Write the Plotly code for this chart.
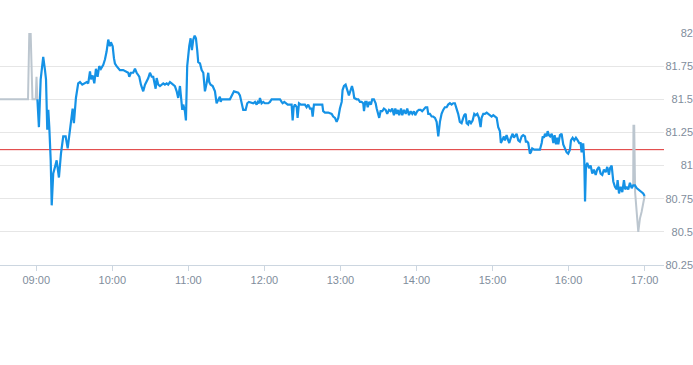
import pandas as pd
import plotly.graph_objects as go

# ---- data (minutes relative to 09:00, prices) ----
trade_date = "2024-01-15"
prev_close = 81.12

pre_minutes = [-30, -6.5, -5.5, -4.4, -3.0, -0.4, 0.2, 0.9]
pre_values = [81.50, 81.50, 81.995, 81.995, 81.50, 81.50, 81.67, 81.50]

session_minutes = [
    0.9, 2.1, 3.5, 4.5, 5.5, 6.9, 7.7, 8.7, 9.5, 10.3, 11.4, 12.2, 13.4, 14.8, 16.1, 17.9, 19.5, 21.3, 23.2, 24.8,
    26.6, 27.9, 28.7, 29.7, 31.3, 33.1, 34.5, 36.3, 38.4, 39.8, 41.0, 42.4, 43.2, 44.5, 45.8, 47.1, 48.4, 49.7, 51.0, 52.9,
    54.2, 55.5, 56.8, 58.1, 58.9, 60.3, 61.3, 62.1, 63.4, 66.0, 68.6, 70.8, 72.6, 73.4, 74.7, 76.5, 77.9, 79.2, 81.3, 82.6,
    84.4, 85.8, 87.1, 88.4, 89.7, 91.1, 92.3, 93.1, 94.2, 95.0, 96.3, 97.6, 98.9, 100.2, 101.5, 102.9, 104.1, 105.5, 106.8, 108.1,
    109.4, 110.8, 112.0, 113.4, 114.2, 115.2, 116.0, 117.3, 118.1, 119.1, 120.7, 121.8, 122.8, 123.9, 125.0, 126.0, 127.0, 127.8, 129.2, 130.5,
    131.8, 133.1, 134.4, 135.7, 136.5, 137.6, 139.2, 141.0, 142.3, 143.6, 144.9, 145.5, 146.3, 148.9, 152.8, 156.0, 158.1, 159.4, 160.7, 162.1,
    163.3, 165.2, 166.5, 167.8, 170.0, 171.2, 172.6, 173.9, 174.7, 175.7, 176.5, 177.8, 179.1, 180.4, 181.8, 183.0, 184.4, 185.7, 187.0, 189.7,
    192.3, 193.6, 194.4, 195.7, 196.8, 198.4, 200.2, 201.5, 202.3, 203.1, 204.1, 205.5, 206.2, 207.3, 208.8, 210.7, 212.0, 213.3, 214.6, 216.0,
    217.3, 218.1, 219.1, 220.4, 222.5, 224.6, 225.7, 226.4, 227.8, 230.4, 233.1, 234.3, 235.7, 237.0, 238.3, 239.6, 241.0, 241.7, 242.8, 244.1,
    245.4, 246.7, 248.1, 249.1, 250.1, 250.9, 252.8, 254.1, 255.4, 256.7, 258.0, 258.6, 259.6, 260.7, 261.5, 262.8, 264.1, 265.1, 266.4, 267.8,
    268.6, 269.8, 270.6, 271.7, 273.0, 274.3, 275.7, 276.9, 278.3, 279.6, 280.9, 282.2, 283.3, 284.4, 285.4, 286.4, 287.8, 288.8, 290.1, 291.5,
    292.7, 294.1, 295.4, 296.7, 298.0, 299.0, 300.6, 301.9, 303.3, 304.5, 305.9, 307.2, 308.5, 309.3, 310.6, 312.0, 313.2, 314.6, 315.9, 317.2,
    318.5, 319.8, 321.1, 322.4, 323.8, 325.0, 326.4, 327.7, 329.0, 330.3, 331.6, 332.9, 334.2, 335.6, 336.9, 337.7, 338.8, 339.6, 340.8, 341.6,
    343.0, 344.3, 345.6, 346.7, 348.0, 349.3, 350.6, 351.4, 352.7, 354.0, 355.4, 356.6, 358.0, 359.3, 360.6, 361.9, 363.3, 364.5, 365.8, 366.6,
    367.7, 369.0, 369.8, 371.1, 372.4, 373.2, 374.5, 375.9, 376.9, 378.3, 379.0, 380.3, 381.6, 383.0, 384.2, 385.6, 386.3, 387.4, 388.2, 389.5,
    390.3, 391.3, 392.9, 394.8, 397.4, 398.8, 399.6, 400.6, 401.4, 402.7, 403.5, 404.5, 405.5, 406.7, 408.0, 409.0, 410.1, 411.1, 411.9, 413.2,
    414.5, 415.8, 417.1, 418.5, 419.7, 421.1, 421.9, 423.2, 424.5, 425.8, 427.2, 428.4, 429.5, 430.3, 431.1, 431.6, 432.4, 433.0, 433.7, 434.7,
    436.1, 437.4, 438.7, 440.0, 441.4, 442.6, 444.0, 445.3, 446.6, 447.9, 449.3, 450.5, 451.9, 452.7, 454.0, 455.3, 456.6, 458.0, 458.7, 459.8,
    461.1, 462.4, 463.7, 464.7, 465.8, 467.1, 468.4, 469.8, 471.0, 472.4, 473.7, 476.3, 478.9, 480.0,
]
session_values = [
    81.50, 81.29, 81.65, 81.72, 81.82, 81.72, 81.65, 81.27, 81.42, 81.29, 81.04, 80.70, 80.94, 80.99, 81.04, 80.91, 81.09, 81.22, 81.22, 81.13,
    81.29, 81.38, 81.43, 81.32, 81.51, 81.62, 81.63, 81.61, 81.62, 81.63, 81.62, 81.71, 81.65, 81.68, 81.62, 81.73, 81.67, 81.75, 81.73, 81.76,
    81.80, 81.86, 81.95, 81.90, 81.93, 81.90, 81.81, 81.77, 81.75, 81.72, 81.72, 81.71, 81.70, 81.67, 81.70, 81.70, 81.73, 81.70, 81.67, 81.61,
    81.56, 81.61, 81.63, 81.66, 81.70, 81.67, 81.67, 81.62, 81.58, 81.66, 81.61, 81.60, 81.61, 81.62, 81.61, 81.62, 81.61, 81.63, 81.62, 81.61,
    81.60, 81.56, 81.51, 81.60, 81.50, 81.42, 81.46, 81.41, 81.34, 81.75, 81.90, 81.96, 81.87, 81.95, 81.98, 81.96, 81.87, 81.78, 81.77, 81.72,
    81.70, 81.56, 81.62, 81.70, 81.63, 81.61, 81.60, 81.56, 81.47, 81.50, 81.52, 81.48, 81.50, 81.50, 81.50, 81.56, 81.55, 81.55, 81.53, 81.48,
    81.42, 81.42, 81.47, 81.48, 81.47, 81.47, 81.48, 81.46, 81.48, 81.47, 81.51, 81.47, 81.48, 81.47, 81.47, 81.47, 81.48, 81.50, 81.50, 81.50,
    81.50, 81.48, 81.47, 81.48, 81.47, 81.46, 81.46, 81.46, 81.34, 81.44, 81.46, 81.44, 81.36, 81.47, 81.46, 81.46, 81.46, 81.44, 81.46, 81.43,
    81.43, 81.37, 81.46, 81.46, 81.46, 81.46, 81.46, 81.41, 81.40, 81.40, 81.39, 81.37, 81.36, 81.33, 81.36, 81.43, 81.48, 81.57, 81.60, 81.61,
    81.57, 81.53, 81.57, 81.60, 81.56, 81.51, 81.50, 81.50, 81.48, 81.48, 81.47, 81.41, 81.48, 81.48, 81.44, 81.48, 81.46, 81.50, 81.50, 81.47,
    81.43, 81.39, 81.36, 81.41, 81.41, 81.43, 81.42, 81.39, 81.42, 81.41, 81.43, 81.38, 81.43, 81.39, 81.42, 81.38, 81.43, 81.38, 81.42, 81.39,
    81.43, 81.38, 81.41, 81.39, 81.41, 81.38, 81.41, 81.42, 81.42, 81.41, 81.43, 81.44, 81.44, 81.39, 81.39, 81.37, 81.37, 81.36, 81.33, 81.22,
    81.33, 81.39, 81.42, 81.44, 81.44, 81.46, 81.47, 81.46, 81.47, 81.47, 81.43, 81.39, 81.33, 81.32, 81.36, 81.38, 81.39, 81.32, 81.31, 81.34,
    81.32, 81.34, 81.39, 81.38, 81.39, 81.36, 81.29, 81.36, 81.39, 81.39, 81.40, 81.39, 81.38, 81.37, 81.38, 81.37, 81.36, 81.29, 81.26, 81.17,
    81.19, 81.22, 81.19, 81.23, 81.19, 81.17, 81.21, 81.24, 81.21, 81.23, 81.24, 81.19, 81.18, 81.22, 81.23, 81.22, 81.18, 81.18, 81.17, 81.09,
    81.10, 81.13, 81.12, 81.12, 81.12, 81.17, 81.22, 81.21, 81.24, 81.22, 81.26, 81.23, 81.22, 81.24, 81.17, 81.23, 81.16, 81.21, 81.16, 81.23,
    81.24, 81.16, 81.13, 81.10, 81.09, 81.12, 81.19, 81.21, 81.19, 81.21, 81.19, 81.17, 81.17, 81.10, 81.16, 81.16, 81.04, 80.73, 80.99, 81.02,
    80.98, 81.00, 80.94, 80.97, 80.93, 80.97, 80.99, 80.94, 80.93, 80.97, 80.95, 80.99, 80.93, 80.98, 81.00, 80.88, 80.84, 80.82, 80.89, 80.79,
    80.84, 80.80, 80.89, 80.82, 80.84, 80.82, 80.87, 80.83, 80.85, 80.85, 80.83, 80.81, 80.79, 80.77,
]

post_minutes = [471.0, 471.2, 471.8, 472.5, 475.0, 476.3, 477.6, 480.0]
post_values = [80.85, 81.30, 81.30, 80.80, 80.50, 80.60, 80.65, 80.77]

y_tick_values = [80.25, 80.5, 80.75, 81.0, 81.25, 81.5, 81.75, 82.0]
y_tick_labels = ["80.25", "80.5", "80.75", "81", "81.25", "81.5", "81.75", "82"]

x_start_minutes = -28.6
x_end_minutes = 495.3


def to_time(mins):
    base = pd.Timestamp(trade_date + " 09:00:00")
    return [base + pd.Timedelta(minutes=m) for m in mins]


BLUE = "#1592e6"
GRAY = "#bcc6cf"
LABEL = "#7f8d9c"
FONT = "Liberation Sans, Arial, sans-serif"

fig = go.Figure()
fig.add_trace(go.Scatter(x=to_time(pre_minutes), y=pre_values, mode="lines",
                         line=dict(color=GRAY, width=2), hoverinfo="skip", showlegend=False))
fig.add_trace(go.Scatter(x=to_time(post_minutes), y=post_values, mode="lines",
                         line=dict(color=GRAY, width=2), hoverinfo="skip", showlegend=False))
fig.add_trace(go.Scatter(x=to_time(session_minutes), y=session_values, mode="lines",
                         line=dict(color=BLUE, width=2.2), showlegend=False))

fig.add_shape(type="line", xref="x domain", x0=0, x1=1, yref="y", y0=prev_close, y1=prev_close,
              line=dict(color="#de2f2f", width=1), layer="below")

fig.update_layout(
    template="none",
    width=693, height=365,
    margin=dict(l=0, r=0, t=33, b=100, pad=0),
    paper_bgcolor="white", plot_bgcolor="white",
    font=dict(family=FONT, size=11, color=LABEL),
    showlegend=False,
    xaxis=dict(
        domain=[0, 664 / 693],
        range=to_time([x_start_minutes, x_end_minutes]),
        type="date", dtick=3600000, tick0=trade_date + " 09:00:00", tickformat="%H:%M",
        showgrid=False, showline=True, linecolor="#ccd6e0", linewidth=1,
        ticks="outside", ticklen=5, tickcolor="#ccd6e0", tickwidth=1,
        tickfont=dict(family=FONT, size=11, color=LABEL),
        zeroline=False, automargin=False,
    ),
    yaxis=dict(
        range=[80.25, 82.0], anchor="free", position=1.0, side="left",
        tickvals=y_tick_values, ticktext=y_tick_labels,
        showgrid=True, gridcolor="#e6e6e6", gridwidth=1,
        showline=False, zeroline=False, ticks="",
        tickfont=dict(family=FONT, size=11, color=LABEL),
        automargin=False,
    ),
)

fig.write_html("out.html", config={"displayModeBar": False},
               post_script="document.body.style.margin='0';document.body.style.padding='0';")
